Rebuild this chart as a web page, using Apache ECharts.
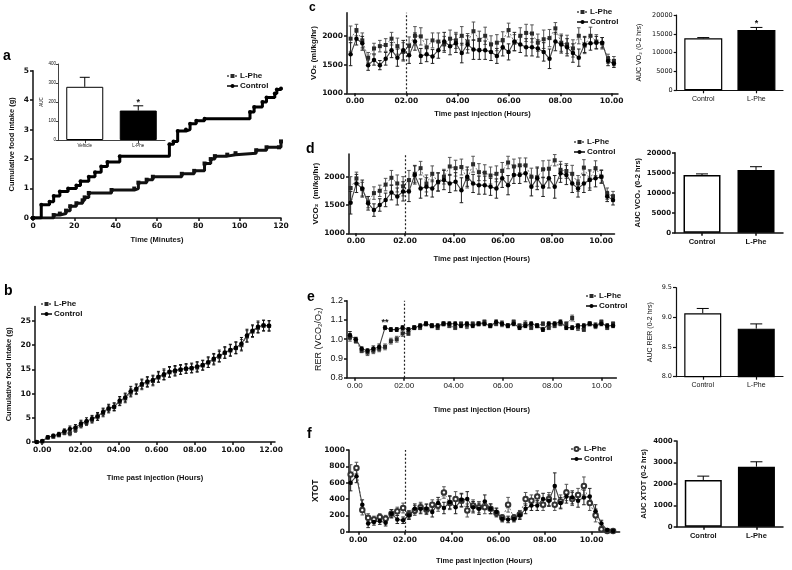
<!DOCTYPE html>
<html><head><meta charset="utf-8">
<script src="https://cdn.jsdelivr.net/npm/echarts@6/dist/echarts.min.js"></script>
<style>html,body{margin:0;padding:0;background:#fff}#chart{width:792px;height:570px}</style>
</head><body><div id="chart"></div>
<script>
// ================= DATA =================
// Panel a: cumulative intake step curves (minute, grams)
const aCtrlMin = [0, 4, 8, 10, 13, 17, 21, 23, 27, 30, 33, 36, 42, 66, 68, 70, 74, 76, 79, 83, 105, 107, 111, 113, 117, 118, 120];
const aCtrlVal = [0, 0.45, 0.55, 0.75, 0.9, 1.0, 1.1, 1.25, 1.4, 1.55, 1.75, 1.9, 2.1, 2.5, 2.6, 2.95, 3.0, 3.2, 3.3, 3.37, 3.6, 3.77, 3.94, 4.09, 4.23, 4.36, 4.4];
const aLpheMin = [0, 10, 13, 16, 18, 21, 24, 25, 27, 38, 49, 51, 55, 58, 72, 78, 83, 86, 88, 94, 98, 108, 113, 119, 120];
const aLpheVal = [0, 0.1, 0.15, 0.25, 0.4, 0.5, 0.6, 0.7, 0.85, 0.95, 1.0, 1.2, 1.3, 1.4, 1.5, 1.6, 1.85, 2.0, 2.1, 2.15, 2.2, 2.3, 2.4, 2.4, 2.6];
const aBarCats = ['Vehicle', 'L-Phe'];
const aBarVals = [280, 155];
const aBarErr = [50, 25];
const aBarSig = ['', '*'];

// Panel b: cumulative intake over hours
const bStart = -0.29, bStep = 0.29;
const bCtrl = [0, 0.2, 1.0, 1.3, 1.6, 2.2, 2.7, 3.0, 3.8, 4.3, 4.8, 5.3, 6.2, 7.0, 7.3, 8.5, 9.2, 10.5, 11.0, 12.0, 12.5, 12.8, 13.5, 14.0, 14.5, 14.8, 15.0, 15.2, 15.3, 15.6, 15.9, 16.5, 17.2, 17.8, 18.5, 19.0, 19.5, 20.3, 22.0, 23.0, 23.8, 24.1, 24.0];
const bLphe = [0, 0.1, 0.9, 1.1, 1.4, 1.9, 1.8, 2.5, 3.5, 4.0, 4.6, 5.2, 6.0, 6.8, 7.2, 8.3, 9.0, 10.2, 10.8, 11.8, 12.3, 12.6, 13.3, 13.8, 14.4, 14.6, 14.9, 15.1, 15.2, 15.4, 15.8, 16.4, 17.0, 17.6, 18.4, 18.9, 19.4, 20.0, 21.8, 22.8, 23.6, 24.0, 24.0];
const bCtrlErr = [0, 0.1, 0.3, 0.3, 0.4, 0.5, 0.6, 0.6, 0.7, 0.7, 0.7, 0.8, 0.8, 0.8, 0.8, 0.9, 0.9, 1.0, 1.0, 1.0, 1.0, 1.0, 1.1, 1.1, 1.1, 1.0, 1.0, 1.0, 1.0, 1.0, 1.0, 1.1, 1.1, 1.2, 1.2, 1.2, 1.2, 1.3, 1.3, 1.2, 1.2, 1.1, 1.1];
const bLpheErr = [0, 0.1, 0.2, 0.3, 0.3, 0.4, 0.5, 0.5, 0.6, 0.6, 0.7, 0.7, 0.8, 0.8, 0.8, 0.8, 0.9, 0.9, 1.0, 1.0, 1.0, 1.0, 1.0, 1.0, 1.0, 1.0, 0.9, 0.9, 0.9, 1.0, 1.0, 1.0, 1.1, 1.1, 1.1, 1.2, 1.2, 1.2, 1.2, 1.2, 1.1, 1.1, 1.0];
const bTickVals = [0, 2, 4, 6, 8, 10, 12];
const bTickText = ['0.00', '02.00', '04.00', '0.600', '08.00', '10.00', '12.00'];

// Shared hour ticks for c-f
const hourTickVals = [0, 2, 4, 6, 8, 10];
const hourTickText = ['0.00', '02.00', '04.00', '06.00', '08.00', '10.00'];
const injectionHour = 2;

// Panel c: VO2
const cStart = -0.17, cStep = 0.228;
const cCtrl = [1680, 1950, 1870, 1490, 1580, 1490, 1600, 1750, 1620, 1750, 1660, 1900, 1650, 1680, 1640, 1750, 1900, 1820, 1870, 1700, 1850, 1760, 1750, 1750, 1720, 1650, 1800, 1720, 1900, 1850, 1800, 1800, 1780, 1720, 1600, 1900, 1850, 1800, 1700, 1620, 1850, 1870, 1880, 1880, 1560, 1520];
const cLphe = [1950, 2100, 1920, 1620, 1780, 1820, 1840, 1950, 1820, 1720, 1830, 2000, 1990, 1800, 1920, 1900, 1850, 1950, 1920, 2000, 1900, 2080, 1930, 2000, 1850, 1880, 1920, 2100, 1880, 2000, 2050, 2040, 1880, 1940, 1960, 2130, 1880, 1850, 1780, 2000, 1830, 2000, 1900, 1870, 1600, 1560];
const cCtrlErr = [200, 110, 120, 90, 90, 80, 110, 130, 150, 170, 140, 150, 130, 130, 120, 140, 160, 150, 160, 170, 150, 170, 160, 160, 150, 130, 150, 140, 160, 140, 150, 150, 150, 160, 170, 160, 150, 150, 160, 150, 140, 120, 110, 90, 80, 70];
const cLpheErr = [220, 100, 130, 90, 90, 100, 110, 110, 140, 160, 150, 160, 150, 140, 130, 150, 140, 150, 140, 160, 140, 160, 150, 150, 150, 140, 150, 120, 140, 140, 150, 150, 150, 160, 150, 100, 150, 160, 150, 140, 140, 150, 120, 100, 80, 80];
const cBarCats = ['Control', 'L-Phe'];
const cBarVals = [13800, 16000];
const cBarErr = [200, 700];
const cBarSig = ['', '*'];

// Panel d: VCO2
const dStart = -0.22, dStep = 0.238;
const dCtrl = [1540, 1880, 1790, 1530, 1410, 1500, 1590, 1720, 1650, 1740, 1740, 2030, 1790, 1820, 1790, 1910, 1940, 1880, 1910, 1760, 2000, 1880, 1850, 1850, 1820, 1790, 1970, 1850, 2030, 2030, 2060, 1820, 1970, 1820, 1970, 1820, 2060, 2030, 1880, 1790, 1880, 1940, 1970, 2000, 1650, 1590];
const dLphe = [1800, 1970, 1780, 1550, 1710, 1750, 1860, 1980, 1880, 1830, 1940, 2050, 2150, 1880, 2050, 1900, 2000, 2180, 2150, 2170, 1960, 2220, 2080, 2070, 2020, 2050, 2100, 2250, 2180, 2200, 2200, 2000, 1990, 2130, 2140, 2290, 2120, 2100, 2050, 1880, 2160, 1950, 2150, 2000, 1700, 1650];
const dCtrlErr = [200, 160, 150, 120, 110, 110, 120, 130, 150, 170, 180, 160, 170, 160, 150, 160, 170, 160, 160, 220, 170, 160, 160, 160, 150, 170, 160, 170, 150, 150, 150, 160, 200, 170, 170, 200, 160, 170, 160, 150, 160, 180, 150, 110, 90, 90];
const dLpheErr = [200, 110, 120, 100, 110, 100, 110, 130, 150, 170, 170, 150, 120, 150, 140, 160, 130, 160, 140, 140, 160, 140, 150, 140, 150, 140, 150, 110, 130, 130, 130, 150, 160, 150, 150, 100, 150, 130, 150, 140, 140, 150, 130, 120, 100, 90];
const dBarCats = ['Control', 'L-Phe'];
const dBarVals = [14400, 15700];
const dBarErr = [300, 800];

// Panel e: RER
const eStart = -0.2, eStep = 0.237;
const eCtrl = [1.02, 1.00, 0.95, 0.94, 0.95, 0.96, 1.06, 1.05, 1.05, 1.06, 1.05, 1.06, 1.07, 1.08, 1.07, 1.07, 1.08, 1.08, 1.08, 1.07, 1.08, 1.07, 1.08, 1.08, 1.07, 1.09, 1.08, 1.07, 1.08, 1.06, 1.07, 1.08, 1.07, 1.05, 1.08, 1.08, 1.09, 1.06, 1.06, 1.07, 1.07, 1.08, 1.07, 1.08, 1.07, 1.07];
const eLphe = [1.01, 0.99, 0.94, 0.93, 0.94, 0.95, 0.96, 0.99, 1.00, 1.03, 1.03, 1.06, 1.06, 1.08, 1.07, 1.06, 1.08, 1.07, 1.06, 1.08, 1.07, 1.08, 1.08, 1.09, 1.07, 1.08, 1.08, 1.07, 1.09, 1.07, 1.08, 1.06, 1.07, 1.08, 1.06, 1.07, 1.08, 1.08, 1.11, 1.06, 1.05, 1.08, 1.07, 1.09, 1.06, 1.08];
const eCtrlErr = [0.02, 0.01, 0.01, 0.01, 0.015, 0.015, 0.01, 0.01, 0.01, 0.01, 0.01, 0.01, 0.01, 0.01, 0.01, 0.01, 0.01, 0.01, 0.01, 0.01, 0.01, 0.01, 0.01, 0.01, 0.01, 0.01, 0.01, 0.01, 0.01, 0.01, 0.01, 0.01, 0.01, 0.01, 0.01, 0.01, 0.01, 0.01, 0.01, 0.01, 0.01, 0.01, 0.01, 0.01, 0.01, 0.01];
const eLpheErr = [0.02, 0.01, 0.01, 0.015, 0.015, 0.015, 0.015, 0.015, 0.015, 0.015, 0.01, 0.01, 0.01, 0.01, 0.01, 0.01, 0.01, 0.01, 0.01, 0.01, 0.015, 0.01, 0.01, 0.01, 0.01, 0.01, 0.015, 0.01, 0.01, 0.01, 0.015, 0.01, 0.01, 0.01, 0.01, 0.01, 0.01, 0.01, 0.015, 0.015, 0.01, 0.01, 0.015, 0.01, 0.01, 0.01];
const eCtrlSig = { 6: '**' };
const eBarCats = ['Control', 'L-Phe'];
const eBarVals = [9.07, 8.81];
const eBarErr = [0.08, 0.08];

// Panel f: XTOT
const fStart = -0.33, fStep = 0.25;
const fCtrl = [600, 680, 330, 100, 120, 130, 110, 220, 150, 140, 200, 280, 280, 280, 240, 350, 290, 360, 300, 390, 400, 300, 280, 370, 280, 240, 160, 150, 160, 200, 280, 320, 320, 400, 380, 560, 350, 430, 420, 380, 420, 430, 250, 100, 20, 10];
const fLphe = [700, 780, 265, 170, 150, 180, 160, 220, 250, 290, 210, 260, 300, 270, 330, 320, 480, 350, 400, 380, 260, 320, 300, 300, 280, 230, 170, 330, 170, 210, 400, 380, 430, 330, 400, 330, 370, 480, 400, 450, 560, 350, 200, 30, 10, 10];
const fCtrlErr = [100, 80, 60, 50, 40, 40, 40, 50, 50, 40, 50, 60, 60, 60, 60, 70, 70, 80, 80, 80, 90, 70, 70, 80, 60, 50, 40, 40, 40, 50, 60, 60, 60, 70, 70, 160, 70, 80, 80, 80, 90, 100, 80, 40, 10, 10];
const fLpheErr = [120, 70, 60, 50, 40, 40, 40, 50, 50, 60, 50, 60, 60, 60, 60, 70, 70, 80, 90, 80, 80, 70, 70, 80, 60, 50, 40, 90, 40, 50, 80, 70, 70, 70, 80, 70, 80, 100, 80, 80, 110, 90, 80, 30, 10, 10];
const fBarCats = ['Control', 'L-Phe'];
const fBarVals = [2180, 2800];
const fBarErr = [180, 230];

// ================= CHART =================
const SANS = '"Liberation Sans", Arial, sans-serif';
const WIDE = '"DejaVu Sans", sans-serif';
const INK = '#111';

function hoursOf(n, start, step) { const r = []; for (let i = 0; i < n; i++) r.push(+(start + i * step).toFixed(4)); return r; }
function pairs(xs, ys) { return ys.map((v, i) => [xs[i], v]); }
function errData(xs, ys, es) { return ys.map((v, i) => [xs[i], v, es[i]]); }

const grids = [
  { left: 33, top: 70.7, width: 248, height: 147.3 },   // 0 a
  { left: 58, top: 64, width: 107, height: 76 },        // 1 a inset
  { left: 35, top: 306.5, width: 240, height: 135.5 },  // 2 b
  { left: 347, top: 12.8, width: 271, height: 80.5 },   // 3 c
  { left: 676.7, top: 15, width: 106.3, height: 75.3 }, // 4 c bar
  { left: 349, top: 154, width: 265.5, height: 79.3 },  // 5 d
  { left: 675, top: 152.7, width: 108, height: 80 },    // 6 d bar
  { left: 347, top: 300.7, width: 269.4, height: 77 },  // 7 e
  { left: 676, top: 287.7, width: 107, height: 89 },    // 8 e bar
  { left: 349, top: 450, width: 270.6, height: 81.7 },  // 9 f
  { left: 676.7, top: 441, width: 106.3, height: 85.7 } // 10 f bar
];

function nameStyle(size, bold) { return { fontFamily: SANS, fontSize: size, fontWeight: bold ? 'bold' : 'normal', color: INK }; }

function valAxis(gi, min, max, ticks, fmt, opt) {
  return {
    type: 'value', gridIndex: gi, min: min, max: max,
    axisLine: { show: true, onZero: false, lineStyle: { color: INK, width: opt.lw || 1.5 } },
    axisTick: { show: true, customValues: ticks, length: opt.tl || 3, lineStyle: { color: INK, width: opt.lw || 1.5 } },
    axisLabel: { customValues: ticks, formatter: fmt, fontFamily: opt.ff || WIDE, fontSize: opt.fs || 7.5, fontWeight: opt.bold === false ? 'normal' : 'bold', color: INK, margin: opt.margin || 4 },
    splitLine: { show: false },
    name: opt.name || '', nameLocation: 'middle', nameGap: opt.gap || 20,
    nameRotate: opt.rot, nameTextStyle: nameStyle(opt.ns || 7.5, opt.nbold !== false)
  };
}
function lookup(vals, texts) { return v => { for (let i = 0; i < vals.length; i++) if (Math.abs(vals[i] - v) < 1e-6) return texts[i]; return ''; }; }
function catAxis(gi, cats, opt) {
  return {
    type: 'category', gridIndex: gi, data: cats,
    axisLine: { show: true, lineStyle: { color: INK, width: opt.lw || 1.5 } },
    axisTick: { show: true, alignWithLabel: true, length: 3, lineStyle: { color: INK, width: opt.lw || 1.5 } },
    axisLabel: { fontFamily: opt.ff || SANS, fontSize: opt.fs || 7, fontWeight: opt.bold ? 'bold' : 'normal', color: INK, margin: opt.margin || 5 },
    splitLine: { show: false }
  };
}

const xAxes = [
  valAxis(0, 0, 120, [0, 20, 40, 60, 80, 100, 120], v => String(v), { name: 'Time (Minutes)', gap: 18, fs: 7.5 }),
  catAxis(1, aBarCats, { lw: 0.8, fs: 4.5, margin: 3 }),
  valAxis(2, -0.38, 12.2, bTickVals, lookup(bTickVals, bTickText), { name: 'Time past injection (Hours)', gap: 32 }),
  valAxis(3, -0.31, 10.25, hourTickVals, lookup(hourTickVals, hourTickText), { name: 'Time past injection (Hours)', gap: 17 }),
  catAxis(4, cBarCats, { fs: 7, lw: 1.2 }),
  valAxis(5, -0.286, 10.55, hourTickVals, lookup(hourTickVals, hourTickText), { name: 'Time past injection (Hours)', gap: 22 }),
  catAxis(6, dBarCats, { fs: 7.5, bold: true, lw: 1.5 }),
  valAxis(7, -0.32, 10.6, hourTickVals, lookup(hourTickVals, hourTickText), { name: 'Time past injection (Hours)', gap: 28, fs: 8, ff: SANS, bold: false }),
  catAxis(8, eBarCats, { fs: 7, lw: 1.2 }),
  valAxis(9, -0.4, 11.2, hourTickVals, lookup(hourTickVals, hourTickText), { name: 'Time past injection (Hours)', gap: 25 }),
  catAxis(10, fBarCats, { fs: 7.5, bold: true, lw: 1.5 })
];
const yAxes = [
  valAxis(0, 0, 5, [0, 1, 2, 3, 4, 5], v => String(v), { name: 'Cumulative food intake (g)', gap: 17, rot: 90 }),
  valAxis(1, 0, 400, [0, 100, 200, 300, 400], v => String(v), { lw: 0.8, fs: 4.5, ff: SANS, bold: false, tl: 2, margin: 2, name: 'AUC', gap: 12, rot: 90, ns: 4.5, nbold: false }),
  valAxis(2, 0, 28, [0, 5, 10, 15, 20, 25], v => String(v), { name: 'Cumulative food intake (g)', gap: 22, rot: 90 }),
  valAxis(3, 1000, 2400, [1000, 1500, 2000], v => String(v), { name: 'VO₂ (ml/kg/hr)', gap: 23, rot: 90, ns: 8 }),
  valAxis(4, 0, 20000, [0, 5000, 10000, 15000, 20000], v => String(v), { fs: 6.5, bold: false, lw: 1.2, name: 'AUC VO₂ (0-2 hrs)', gap: 34, rot: 90, ns: 7, nbold: false }),
  valAxis(5, 1000, 2400, [1000, 1500, 2000], v => String(v), { name: 'VCO₂  (ml/kg/hr)', gap: 25, rot: 90, ns: 8 }),
  valAxis(6, 0, 20000, [0, 5000, 10000, 15000, 20000], v => String(v), { fs: 7, lw: 1.5, name: 'AUC VCO₂ (0-2 hrs)', gap: 33, rot: 90, ns: 7.5 }),
  valAxis(7, 0.8, 1.2, [0.8, 0.9, 1.0, 1.1, 1.2], v => v.toFixed(1), { fs: 9, ff: SANS, bold: false, name: 'RER (VCO₂/O₂)', gap: 24, rot: 90, ns: 9, nbold: false }),
  valAxis(8, 8, 9.5, [8, 8.5, 9, 9.5], v => v.toFixed(1), { fs: 6.5, bold: false, lw: 1.2, name: 'AUC RER (0-2 hrs)', gap: 22, rot: 90, ns: 7, nbold: false }),
  valAxis(9, 0, 1000, [0, 200, 400, 600, 800, 1000], v => String(v), { name: 'XTOT', gap: 28, rot: 90, ns: 8.5 }),
  valAxis(10, 0, 4000, [0, 1000, 2000, 3000, 4000], v => String(v), { fs: 7, lw: 1.5, name: 'AUC XTOT (0-2 hrs)', gap: 29, rot: 90, ns: 7.5 })
];

const LPHE = { symbol: 'rect', symbolSize: 4, itemStyle: { color: '#2a2a2a' }, lineStyle: { color: '#777', width: 1, type: [2, 2] } };
const CTRL = { symbol: 'circle', symbolSize: 4.5, itemStyle: { color: '#000' }, lineStyle: { color: '#444', width: 1.1 } };
const LPHE_OPEN = { symbol: 'emptyCircle', symbolSize: 4.5, itemStyle: { color: '#333', borderWidth: 1 }, lineStyle: { color: '#777', width: 1, type: [2, 2] } };

function lineS(name, gi, data, sty, extra) {
  return Object.assign({ type: 'line', name: name, xAxisIndex: gi, yAxisIndex: gi, data: data, z: 3,
    symbol: sty.symbol, symbolSize: sty.symbolSize, itemStyle: sty.itemStyle, lineStyle: sty.lineStyle,
    emphasis: { disabled: true }, showAllSymbol: true }, extra || {});
}
function errS(gi, data, color, capHalf, both, sig) {
  return {
    type: 'custom', xAxisIndex: gi, yAxisIndex: gi, z: 2, silent: true, data: data,
    encode: { x: 0, y: 1 },
    renderItem: function (params, api) {
      const x = api.value(0), v = api.value(1), e = api.value(2);
      const top = api.coord([x, v + e]);
      const bot = both ? api.coord([x, v - e]) : api.coord([x, v]);
      const st = { stroke: color, lineWidth: 1 };
      const ch = [
        { type: 'line', shape: { x1: top[0], y1: top[1], x2: bot[0], y2: bot[1] }, style: st },
        { type: 'line', shape: { x1: top[0] - capHalf, y1: top[1], x2: top[0] + capHalf, y2: top[1] }, style: st }
      ];
      if (both) ch.push({ type: 'line', shape: { x1: bot[0] - capHalf, y1: bot[1], x2: bot[0] + capHalf, y2: bot[1] }, style: st });
      const s = sig ? sig[params.dataIndex] : '';
      if (s) ch.push({ type: 'text', style: { text: s, x: top[0], y: top[1] + 1, align: 'center', verticalAlign: 'bottom', fontSize: 9, fontWeight: 'bold', fontFamily: SANS, fill: INK } });
      return { type: 'group', children: ch };
    }
  };
}
function barS(gi, vals, bw, lw) {
  return { type: 'bar', xAxisIndex: gi, yAxisIndex: gi, barWidth: bw, z: 2, silent: true,
    data: vals.map((v, i) => ({ value: v, itemStyle: { color: i === 0 ? '#fff' : '#000', borderColor: '#000', borderWidth: lw } })) };
}
function barErr(vals, errs) { return vals.map((v, i) => [i, v, errs[i]]); }

const cH = hoursOf(cCtrl.length, cStart, cStep);
const dH = hoursOf(dCtrl.length, dStart, dStep);
const eH = hoursOf(eCtrl.length, eStart, eStep);
const fH = hoursOf(fCtrl.length, fStart, fStep);
const bH = hoursOf(bCtrl.length, bStart, bStep);

const injLine = { silent: true, symbol: 'none', label: { show: false }, lineStyle: { type: [2, 2], color: '#222', width: 1.2 }, data: [{ xAxis: injectionHour }] };

const series = [
  // c (first so legend icons use this style)
  errS(3, errData(cH, cLphe, cLpheErr), '#555', 1.8, true),
  errS(3, errData(cH, cCtrl, cCtrlErr), '#222', 1.8, true),
  lineS('L-Phe', 3, pairs(cH, cLphe), LPHE, { markLine: injLine }),
  lineS('Control', 3, pairs(cH, cCtrl), CTRL),
  barS(4, cBarVals, 38, 1.2), errS(4, barErr(cBarVals, cBarErr), '#000', 6, false, cBarSig),
  // a
  lineS('L-Phe', 0, pairs(aLpheMin, aLpheVal), { symbol: 'rect', symbolSize: 4, itemStyle: { color: '#111' }, lineStyle: { color: '#111', width: 3 } }, { step: 'end' }),
  lineS('Control', 0, pairs(aCtrlMin, aCtrlVal), { symbol: 'circle', symbolSize: 4, itemStyle: { color: '#000' }, lineStyle: { color: '#000', width: 3 } }, { step: 'end' }),
  barS(1, aBarVals, 37, 1), errS(1, barErr(aBarVals, aBarErr), '#000', 5, false, aBarSig),
  // b
  errS(2, errData(bH, bLphe, bLpheErr), '#444', 1.5, true),
  errS(2, errData(bH, bCtrl, bCtrlErr), '#111', 1.5, true),
  lineS('L-Phe', 2, pairs(bH, bLphe), LPHE),
  lineS('Control', 2, pairs(bH, bCtrl), CTRL),
  // d
  errS(5, errData(dH, dLphe, dLpheErr), '#555', 1.8, true),
  errS(5, errData(dH, dCtrl, dCtrlErr), '#222', 1.8, true),
  lineS('L-Phe', 5, pairs(dH, dLphe), LPHE, { markLine: injLine }),
  lineS('Control', 5, pairs(dH, dCtrl), CTRL),
  barS(6, dBarVals, 37, 1.5), errS(6, barErr(dBarVals, dBarErr), '#000', 6, false),
  // e
  errS(7, errData(eH, eLphe, eLpheErr), '#555', 1.8, true),
  errS(7, errData(eH, eCtrl, eCtrlErr), '#222', 1.8, true, eCtrlSig),
  lineS('L-Phe', 7, pairs(eH, eLphe), LPHE, { markLine: injLine }),
  lineS('Control', 7, pairs(eH, eCtrl), CTRL),
  barS(8, eBarVals, 37, 1.2), errS(8, barErr(eBarVals, eBarErr), '#000', 6, false),
  // f
  errS(9, errData(fH, fLphe, fLpheErr), '#555', 1.8, true),
  errS(9, errData(fH, fCtrl, fCtrlErr), '#222', 1.8, true),
  lineS('L-Phe ', 9, pairs(fH, fLphe), LPHE_OPEN, { markLine: injLine }),
  lineS('Control', 9, pairs(fH, fCtrl), CTRL),
  barS(10, fBarVals, 37, 1.5), errS(10, barErr(fBarVals, fBarErr), '#000', 6, false)
];

function legendAt(left, top, names) {
  return { left: left, top: top, orient: 'vertical', itemWidth: 11, itemHeight: 5, itemGap: 2, padding: 0, selectedMode: false,
    data: names, textStyle: { fontFamily: SANS, fontSize: 8, fontWeight: 'bold', color: INK, padding: [0, 0, 0, -3] } };
}
const legends = [
  legendAt(226, 72, ['L-Phe', 'Control']),
  legendAt(40, 300, ['L-Phe', 'Control']),
  legendAt(576, 8, ['L-Phe', 'Control']),
  legendAt(573, 138, ['L-Phe', 'Control']),
  legendAt(585, 292, ['L-Phe', 'Control']),
  legendAt(570, 445, ['L-Phe ', 'Control'])
];

function letter(t, x, y, size) {
  return { type: 'text', left: x, top: y, style: { text: t, fontFamily: SANS, fontWeight: 'bold', fontSize: size, fill: '#000' } };
}

const chart = echarts.init(document.getElementById('chart'), null, { renderer: 'canvas' });
chart.setOption({
  animation: false,
  backgroundColor: '#fff',
  grid: grids,
  xAxis: xAxes,
  yAxis: yAxes,
  legend: legends,
  series: series,
  graphic: [
    letter('a', 3, 49, 14), letter('b', 4, 284, 14), letter('c', 309, 2, 12),
    letter('d', 306, 142, 14), letter('e', 307, 290, 14), letter('f', 307, 427, 14)
  ]
});
</script>
</body></html>
